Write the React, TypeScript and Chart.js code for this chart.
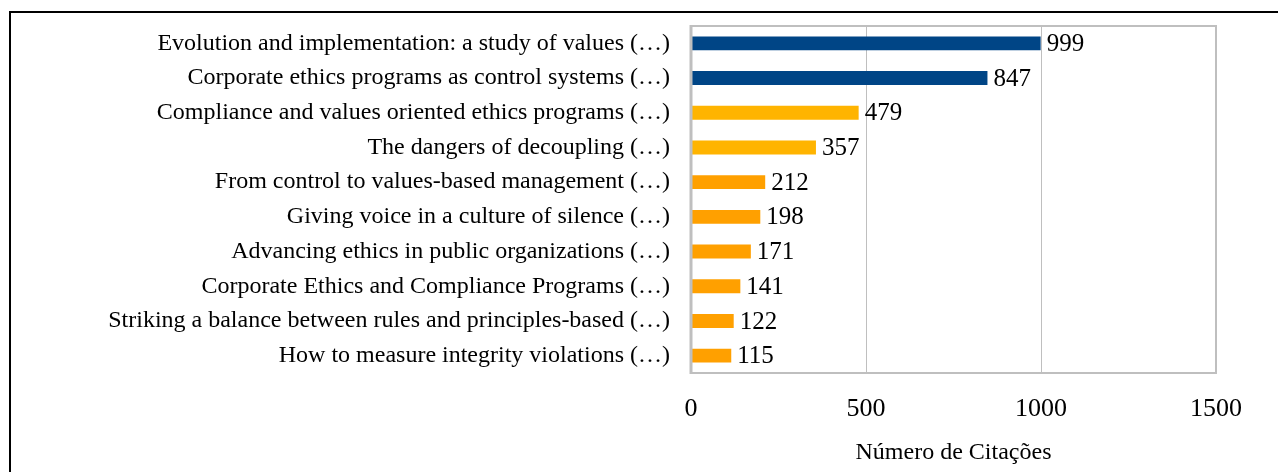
import React, { useEffect, useRef } from "react";
import { Chart, registerables } from "chart.js";

Chart.register(...registerables);

const categories = [
  "Evolution and implementation: a study of values (…)",
  "Corporate ethics programs as control systems (…)",
  "Compliance and values oriented ethics programs (…)",
  "The dangers of decoupling (…)",
  "From control to values-based management (…)",
  "Giving voice in a culture of silence (…)",
  "Advancing ethics in public organizations (…)",
  "Corporate Ethics and Compliance Programs (…)",
  "Striking a balance between rules and principles-based (…)",
  "How to measure integrity violations (…)",
];
const citations = [999, 847, 479, 357, 212, 198, 171, 141, 122, 115];
const xTicks = [0, 500, 1000, 1500];
const axisTitle = "Número de Citações";

const NAVY = "#004586";
const GOLD = "#FFB400";
const ORANGE = "#FFA000";
const barColors = [NAVY, NAVY, GOLD, GOLD, ORANGE, ORANGE, ORANGE, ORANGE, ORANGE, ORANGE];

const SERIF = "'Liberation Serif', 'Times New Roman', serif";

const valueLabels = {
  id: "valueLabels",
  afterDatasetsDraw(chart: any) {
    const ctx = chart.ctx;
    const meta = chart.getDatasetMeta(0);
    ctx.save();
    ctx.font = `25px ${SERIF}`;
    ctx.fillStyle = "#000";
    ctx.textAlign = "left";
    ctx.textBaseline = "middle";
    meta.data.forEach((bar: any, i: number) => {
      ctx.fillText(String(citations[i]), bar.x + 6, bar.y + 1);
    });
    ctx.restore();
  },
};

const plotFrame = {
  id: "plotFrame",
  afterDatasetsDraw(chart: any) {
    const { ctx, chartArea } = chart;
    ctx.save();
    ctx.strokeStyle = "#BFBFBF";
    ctx.lineWidth = 2;
    ctx.beginPath();
    ctx.moveTo(chartArea.left, chartArea.top);
    ctx.lineTo(chartArea.right, chartArea.top);
    ctx.lineTo(chartArea.right, chartArea.bottom);
    ctx.lineTo(chartArea.left, chartArea.bottom);
    ctx.stroke();
    ctx.lineWidth = 3;
    ctx.beginPath();
    ctx.moveTo(chartArea.left, chartArea.top - 1);
    ctx.lineTo(chartArea.left, chartArea.bottom + 1);
    ctx.stroke();
    ctx.restore();
  },
};

export default function App() {
  const ref = useRef<HTMLCanvasElement | null>(null);
  useEffect(() => {
    if (!ref.current) return;
    const chart = new Chart(ref.current, {
      type: "bar",
      data: {
        labels: categories,
        datasets: [
          {
            data: citations,
            backgroundColor: barColors,
            borderWidth: 0,
            categoryPercentage: 1,
            barPercentage: 0.4,
          },
        ],
      },
      options: {
        indexAxis: "y",
        animation: false,
        responsive: false,
        maintainAspectRatio: false,
        layout: { padding: { left: 0, right: 62, top: 26, bottom: 0 } },
        plugins: { legend: { display: false }, tooltip: { enabled: false } },
        scales: {
          x: {
            min: 0,
            max: 1500,
            afterBuildTicks: (scale: any) => {
              scale.ticks = xTicks.map((v) => ({ value: v }));
            },
            afterFit: (scale: any) => {
              scale.height = 99;
            },
            grid: { color: "#BFBFBF", lineWidth: 1, drawTicks: false },
            border: { display: false },
            ticks: {
              color: "#000",
              padding: 21,
              maxRotation: 0,
              callback: (v: any) => String(v),
              font: { family: SERIF, size: 26 },
            },
            title: {
              display: true,
              text: axisTitle,
              color: "#000",
              padding: { top: 0, bottom: 5 },
              font: { family: SERIF, size: 24 },
            },
          },
          y: {
            afterFit: (scale: any) => {
              scale.width = 691;
              scale.paddingTop = 0;
              scale.paddingBottom = 0;
            },
            grid: { display: false, drawTicks: false },
            border: { display: false },
            ticks: {
              color: "#000",
              padding: 21,
              font: { family: SERIF, size: 24 },
            },
          },
        },
      },
      plugins: [plotFrame, valueLabels],
    });
    return () => chart.destroy();
  }, []);

  return (
    <div style={{ position: "fixed", left: 0, top: 0, width: 1278, height: 472, background: "#fff" }}>
      <canvas ref={ref} width={1278} height={472} style={{ position: "absolute", left: 0, top: 0 }} />
      <div
        style={{
          position: "absolute",
          left: 9,
          top: 11,
          width: 1300,
          height: 500,
          borderTop: "2px solid #000",
          borderLeft: "2px solid #000",
          pointerEvents: "none",
        }}
      />
    </div>
  );
}
